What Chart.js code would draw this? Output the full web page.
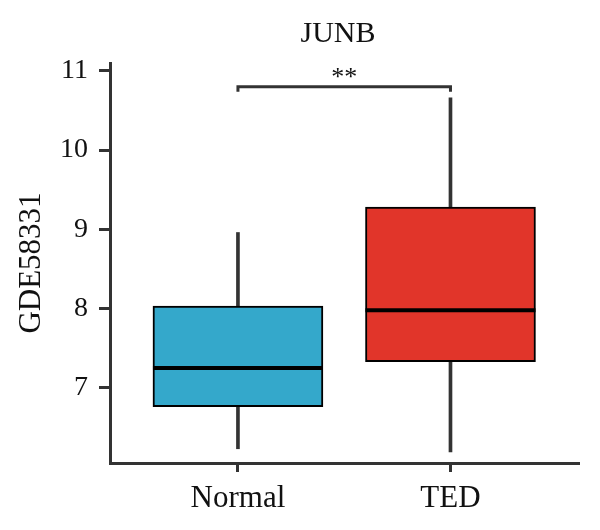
<!DOCTYPE html>
<html>
<head>
<meta charset="utf-8">
<script src="https://cdn.jsdelivr.net/npm/chart.js@4.4.1/dist/chart.umd.min.js"></script>
<style>
    html, body { margin: 0; padding: 0; background: #fff; }
    #wrap { width: 600px; height: 530px; }
</style>
</head>
<body>
<div id="wrap"><canvas id="boxChart" width="600" height="530"></canvas></div>
<script>
// Box plot data
const groups = ['Normal', 'TED'];
const whiskerLow = [6.23, 6.19];
const quartile1 = [6.76, 7.33];
const medians = [7.25, 7.98];
const quartile3 = [8.03, 9.28];
const whiskerHigh = [8.96, 10.66];
const boxColors = ['#34a8cb', '#e1352a'];
const yTicks = [7, 8, 9, 10, 11];
const chartTitle = 'JUNB';
const sigLabel = '**';
const sigLevel = 10.8;

const serif = "'Liberation Serif', 'DejaVu Serif', serif";
const ink = '#333';

// title, medians and the significance bracket, placed through the chart scales
const boxExtras = {
    id: 'boxExtras',
    afterDatasetsDraw(chart) {
        const ctx = chart.ctx;
        const area = chart.chartArea;
        const xs = chart.scales.x, ys = chart.scales.y;
        const meta = chart.getDatasetMeta(0);
        ctx.save();
        ctx.strokeStyle = '#000';
        ctx.lineWidth = 4;
        meta.data.forEach((bar, i) => {
            const y = ys.getPixelForValue(medians[i]);
            ctx.beginPath();
            ctx.moveTo(bar.x - bar.width / 2, y);
            ctx.lineTo(bar.x + bar.width / 2, y);
            ctx.stroke();
        });

        const x1 = xs.getPixelForValue(1), x2 = xs.getPixelForValue(2);
        const yb = ys.getPixelForValue(sigLevel);
        ctx.strokeStyle = ink;
        ctx.lineWidth = 3;
        ctx.beginPath();
        ctx.moveTo(x1, yb + 5);
        ctx.lineTo(x1, yb);
        ctx.lineTo(x2, yb);
        ctx.lineTo(x2, yb + 5);
        ctx.stroke();

        ctx.fillStyle = '#111';
        ctx.textAlign = 'center';
        ctx.textBaseline = 'alphabetic';
        ctx.font = '26px ' + serif;
        ctx.fillText(sigLabel, (x1 + x2) / 2, yb - 2);

        // title sits a little left of the plot centre in the original
        ctx.font = '30px ' + serif;
        ctx.fillText(chartTitle, (area.left + area.right) / 2 - 6, 42);
        ctx.restore();
    }
};

new Chart(document.getElementById('boxChart'), {
    type: 'bar',
    data: {
        datasets: [
            {
                label: 'box',
                data: groups.map((g, i) => ({ x: i + 1, y: [quartile1[i], quartile3[i]] })),
                backgroundColor: boxColors,
                borderColor: '#000',
                borderWidth: 2,
                borderSkipped: false,
                barThickness: 170,
                grouped: false
            },
            {
                label: 'whisker',
                data: groups.map((g, i) => ({ x: i + 1, y: [whiskerLow[i], whiskerHigh[i]] })),
                backgroundColor: ink,
                borderWidth: 0,
                barThickness: 3,
                grouped: false
            }
        ]
    },
    options: {
        responsive: false,
        animation: false,
        layout: { padding: { top: 63, right: 22, bottom: 0, left: 0 } },
        plugins: {
            legend: { display: false },
            tooltip: { enabled: false },
            title: { display: false }
        },
        scales: {
            x: {
                type: 'linear',
                offset: false,
                min: 0.398,
                max: 2.6,
                border: { color: ink, width: 3 },
                grid: { offset: false, drawOnChartArea: false, drawTicks: true, tickLength: 9, color: ink, lineWidth: 3 },
                ticks: {
                    stepSize: 1,
                    includeBounds: false,
                    padding: 8,
                    color: '#111',
                    font: { family: serif, size: 31 },
                    callback: v => groups[v - 1] || ''
                },
                afterFit: s => { s.height = 67; }
            },
            y: {
                min: 6.05,
                max: 11.1,
                border: { color: ink, width: 3 },
                grid: { drawOnChartArea: false, drawTicks: true, tickLength: 11, color: ink, lineWidth: 3 },
                afterBuildTicks: s => { s.ticks = yTicks.map(v => ({ value: v })); },
                ticks: {
                    padding: 11,
                    color: '#111',
                    font: { family: serif, size: 28 }
                },
                title: {
                    display: true,
                    text: 'GDE58331',
                    color: '#111',
                    font: { family: serif, size: 31, lineHeight: 1.2 },
                    padding: { top: 13, bottom: 0 }
                },
                afterFit: s => { s.width = 110; }
            }
        }
    },
    plugins: [boxExtras]
});
</script>
</body>
</html>
